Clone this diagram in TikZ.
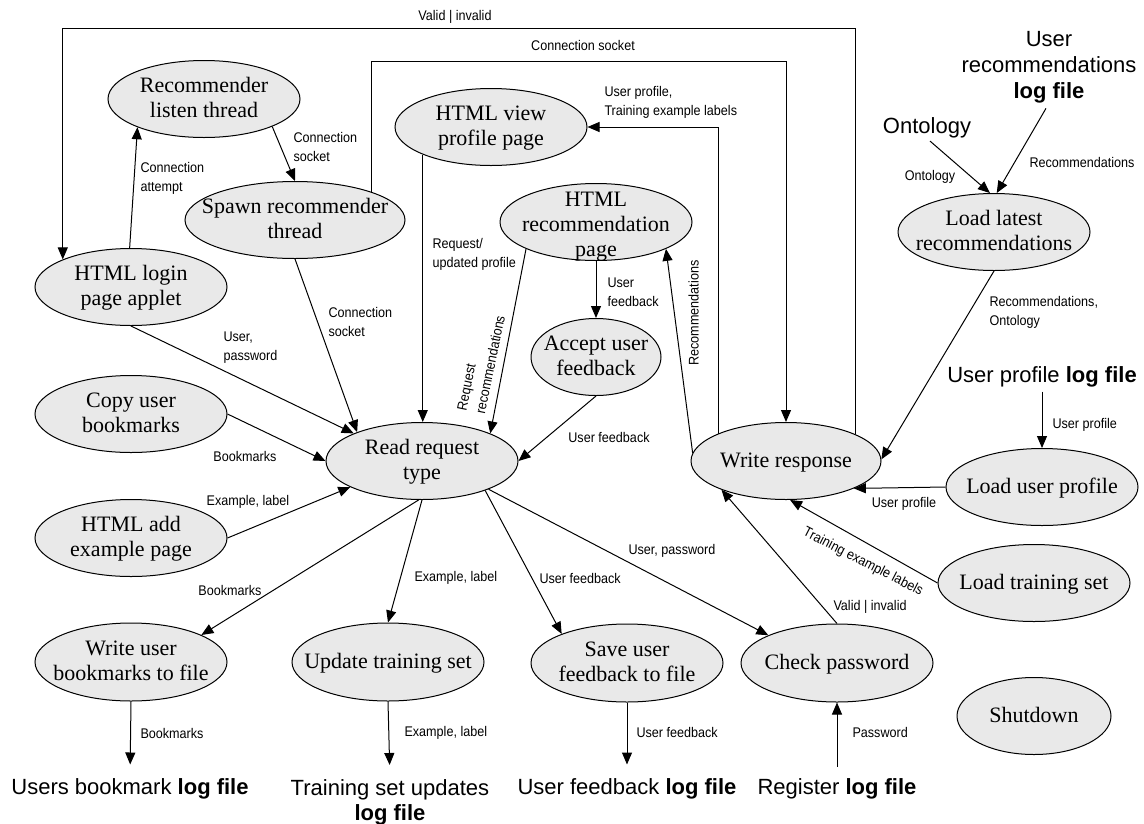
\documentclass[tikz,border=0pt]{standalone}
\usepackage{fontspec}
\setmainfont{Liberation Serif}
\setsansfont{Liberation Sans}
\newfontfamily\labelfont[FakeStretch=0.9]{Liberation Sans}
\usetikzlibrary{shapes.geometric,arrows.meta}
\definecolor{procfill}{RGB}{233,233,233}

% process text: centred on the ellipse and taking no room,
% so every ellipse keeps the size it is given
\newcommand\proctext[2][-6.5pt]{\makebox[0pt]{\raisebox{#1}[0pt][0pt]{%
  \begin{tabular}{@{}c@{}}#2\end{tabular}}}}

\tikzset{
  proc/.style={ellipse, draw=black, line width=1pt, fill=procfill,
    inner sep=0pt, minimum width=192pt, minimum height=77pt,
    font=\rmfamily\fontsize{22}{25}\selectfont},
  flow/.style={line width=1pt, -{Triangle[length=12pt,width=10pt]}},
  lbl/.style={font=\labelfont\fontsize{14}{19}\selectfont, inner sep=0pt, align=left},
  store/.style={font=\sffamily\fontsize{22}{26}\selectfont, inner sep=0pt, align=center},
}

\begin{document}
\begin{tikzpicture}[x=1pt,y=-1pt]
\fill[white] (0,0) rectangle (1144,823);
\useasboundingbox (0,0) rectangle (1144,823);

% ---------- processes ----------
\node[proc] (rl) at (204,99) {\proctext{Recommender\\listen thread}};
\node[proc, minimum width=220pt] (sp) at (295,220) {\proctext{Spawn recommender\\thread}};
\node[proc] (login) at (131,287) {\proctext{HTML login\\page applet}};
\node[proc] (copy) at (131,414) {\proctext{Copy user\\bookmarks}};
\node[proc] (add) at (131,538) {\proctext{HTML add\\example page}};
\node[proc, minimum height=78pt] (wub) at (131,662) {\proctext{Write user\\bookmarks to file}};
\node[proc, minimum height=78pt] (uts) at (388,662) {\proctext{Update training set}};
\node[proc, minimum height=78pt] (suf) at (627,663) {\proctext{Save user\\feedback to file}};
\node[proc, minimum height=78pt] (chk) at (837,663) {\proctext{Check password}};
\node[proc, minimum width=154pt] (shut) at (1034,716) {\proctext{Shutdown}};
\node[proc] (lts) at (1034,583) {\proctext{Load training set}};
\node[proc] (lup) at (1042,487) {\proctext{Load user profile}};
\node[proc, minimum width=190pt] (wr) at (786,461) {\proctext{Write response}};
\node[proc] (rrt) at (422,461) {\proctext{Read request\\type}};
\node[proc, minimum width=130pt] (auf) at (596,357) {\proctext{Accept user\\feedback}};
\node[proc] (rec) at (596,222) {\proctext[-10pt]{HTML\\recommendation\\page}};
\node[proc] (vpp) at (491,127) {\proctext{HTML view\\profile page}};
\node[proc] (llr) at (994,232) {\proctext{Load latest\\recommendations}};

% ---------- data stores ----------
\node[store, anchor=north] (url) at (1049,31) {User\\recommendations\\\textbf{log file}};
\node[store] (onto) at (927,128) {Ontology};
\node[store] (upl) at (1042,377) {User profile \textbf{log file}};
\node[store] (ubl) at (130,789) {Users bookmark \textbf{log file}};
\node[store, anchor=north, font=\sffamily\fontsize{22}{25}\selectfont] (tsl) at (390,779)
  {Training set updates\\\textbf{log file}};
\node[store] (ufl) at (627,789) {User feedback \textbf{log file}};
\node[store] (rgl) at (837,789) {Register \textbf{log file}};

% levels of the two long return lines along the top
\coordinate (topA) at (0,28);
\coordinate (topB) at (0,61);

% ---------- flows ----------
\draw[flow] (login.92) -- (rl.203)
  node[lbl, anchor=west] at (140,178) {Connection\\attempt};
\draw[flow] (rl.338) -- (sp.north)
  node[lbl, anchor=west] at (293,147) {Connection\\socket};
\draw[flow] (sp.south) -- (rrt.156)
  node[lbl, anchor=west] at (328,322) {Connection\\socket};
\draw[flow] (login.south) -- (rrt.158)
  node[lbl, anchor=west] at (223,348) {User,\\password};
\draw[flow] (copy.east) -- (rrt.west)
  node[lbl] at (245,456) {Bookmarks};
\draw[flow] (add.east) -- (rrt.200)
  node[lbl] at (248,502) {Example, label};
\draw[flow] (vpp.202) -- (vpp.202 |- rrt.north)
  node[lbl, anchor=west] at (432,254) {Request/\\updated profile};
\draw[flow] (rec.201) -- (rrt.22)
  node[lbl, rotate=78.4] at (481,363) {Request\\recommendations};
\draw[flow] (rec.south) -- (auf.north)
  node[lbl, anchor=west] at (607,292) {User\\feedback};
\draw[flow] (auf.south) -- (rrt.east)
  node[lbl] at (609,437) {User feedback};
\draw[flow] (wr.175) -- (rec.339)
  node[lbl, rotate=90] at (693.5,313) {Recommendations};
\draw[flow] (wr.158) |- (vpp.east)
  node[lbl, anchor=west] at (604,102) {User profile,\\Training example labels};
\draw[flow] (sp.20) |- (wr.north |- topB) -- (wr.north)
  node[lbl] at (583,45) {Connection socket};
\draw[flow] (wr.21) |- (login.158 |- topA) -- (login.158)
  node[lbl] at (455,17) {Valid | invalid};
\draw[flow] (llr.south) -- (wr.1)
  node[lbl, anchor=west] at (989,312) {Recommendations,\\Ontology};
\draw[flow, shorten <=4pt] (onto.south) -- (llr.96)
  node[lbl] at (930,177) {Ontology};
\draw[flow, shorten <=6pt] (url.south) -- (llr.86)
  node[lbl, anchor=west] at (1029,162) {Recommendations};
\draw[flow, shorten <=4pt] (upl.south) -- (lup.north)
  node[lbl, anchor=west] at (1052,425) {User profile};
\draw[flow] (lup.west) -- (wr.338)
  node[lbl] at (904,504) {User profile};
\draw[flow] (lts.west) -- (wr.276)
  node[lbl, rotate=-27.3] at (863,562) {Training example labels};
\draw[flow] (chk.north) -- (wr.204)
  node[lbl, anchor=west] at (833,607) {Valid | invalid};
\draw[flow] (rrt.337) -- (chk.158)
  node[lbl] at (672,551) {User, password};
\draw[flow] (rrt.265) -- (wub.21)
  node[lbl, anchor=east] at (262,590) {Bookmarks};
\draw[flow] (rrt.270) -- (uts.north)
  node[lbl, anchor=west] at (414,578) {Example, label};
\draw[flow] (rrt.335) -- (suf.156)
  node[lbl, anchor=west] at (539,578) {User feedback};
\draw[flow, shorten >=14pt] (wub.south) -- (ubl.north)
  node[lbl, anchor=west] at (140,733) {Bookmarks};
\draw[flow, shorten >=14pt] (uts.south) -- (tsl.north)
  node[lbl, anchor=west] at (404,733) {Example, label};
\draw[flow, shorten >=14pt] (suf.south) -- (ufl.north)
  node[lbl, anchor=west] at (636,732) {User feedback};
\draw[flow, shorten <=12pt] (rgl.north) -- (chk.south)
  node[lbl, anchor=west] at (852,732) {Password};
\end{tikzpicture}
\end{document}
